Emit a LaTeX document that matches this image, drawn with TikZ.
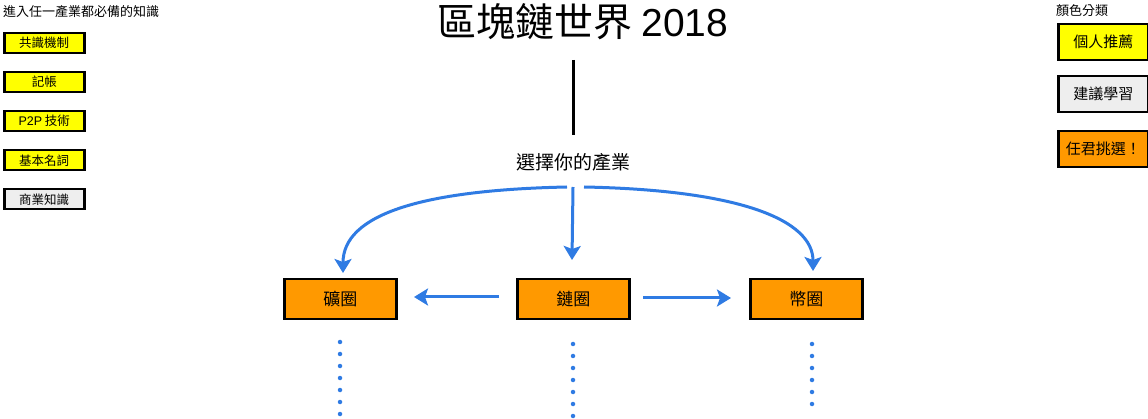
\documentclass[tikz,border=0pt]{standalone}
\usepackage{fontspec}
\setmainfont{Noto Sans CJK TC}
\newfontfamily\latinsans{Liberation Sans}
\usetikzlibrary{arrows.meta,calc}
\definecolor{cyel}{HTML}{FFFF00}
\definecolor{cgry}{HTML}{EEEEEE}
\definecolor{corg}{HTML}{FF9900}
\definecolor{cblu}{HTML}{2F7BE3}
\tikzset{
  base/.style={draw=black, line width=2.5pt, inner sep=0pt, anchor=north west},
  smallbox/.style={base, minimum width=80pt, minimum height=20pt, font=\fontsize{12.5}{14}\selectfont},
  keybox/.style={base, minimum width=90pt, minimum height=36pt, font=\fontsize{15}{17}\selectfont},
  ringbox/.style={base, fill=corg, minimum width=112pt, minimum height=40pt, font=\fontsize{17}{19}\selectfont},
  flow/.style={draw=cblu, line width=3pt, -{Stealth[length=14pt,width=17pt,inset=3pt]}},
  dots/.style={draw=cblu, line width=4.5pt, line cap=round, dash pattern=on 0pt off 12pt},
}
\begin{document}
\begin{tikzpicture}[x=1pt,y=-1pt]
\useasboundingbox (0,0) rectangle (1148,419);
% title
\node (title) at (583,22) {\fontsize{39}{42}\selectfont 區塊鏈世界 {\latinsans 2018}};
\coordinate (t1) at (573,60);
\coordinate (t2) at (573,135);
\draw[line width=3pt] (t1) -- (t2);
\node (choose) at (573,162) {\fontsize{19}{21}\selectfont 選擇你的產業};
% ring boxes
\node[ringbox] (mine) at (283,278) {礦圈};
\node[ringbox] (chain) at (516,278) {鏈圈};
\node[ringbox] (coin) at (749,278) {幣圈};
% arrows from choose
\coordinate (cl) at (567,187);
\coordinate (cm) at (573,187);
\coordinate (cr) at (584,187);
\draw[flow] (cl) .. controls (420,190) and (343,215) .. (343,273);
\draw[flow] (cm) -- (572,260);
\draw[flow] (cr) .. controls (740,190) and (813,220) .. (813,271);
% horizontal arrows
\coordinate (hl) at (499,297);
\coordinate (hlt) at (414,297);
\coordinate (hr) at (643,298);
\coordinate (hrt) at (731,298);
\draw[flow] (hl) -- (hlt);
\draw[flow] (hr) -- (hrt);
% dotted lines
\coordinate (d1a) at (340,342); \coordinate (d1b) at (340,416);
\coordinate (d2a) at (573,344); \coordinate (d2b) at (573,418);
\coordinate (d3a) at (812,344); \coordinate (d3b) at (812,406);
\draw[dots] (d1a) -- (d1b);
\draw[dots] (d2a) -- (d2b);
\draw[dots] (d3a) -- (d3b);
% left column
\node[anchor=west, inner sep=0pt] (lh) at (3,12) {\fontsize{13}{15}\selectfont 進入任一產業都必備的知識};
\node[smallbox, fill=cyel] (k1) at (3,32) {共識機制};
\node[smallbox, fill=cyel] (k2) at (3,71) {記帳};
\node[smallbox, fill=cyel] (k3) at (3,110) {{\latinsans P2P} 技術};
\node[smallbox, fill=cyel] (k4) at (3,149) {基本名詞};
\node[smallbox, fill=cgry] (k5) at (3,188) {商業知識};
% right column
\node[anchor=west, inner sep=0pt] (rh) at (1056,11) {\fontsize{13}{15}\selectfont 顏色分類};
\node[keybox, fill=cyel] (c1) at (1057,23) {個人推薦};
\node[keybox, fill=cgry] (c2) at (1057,75) {建議學習};
\node[keybox, fill=corg] (c3) at (1057,130) {任君挑選！};
\end{tikzpicture}
\end{document}
